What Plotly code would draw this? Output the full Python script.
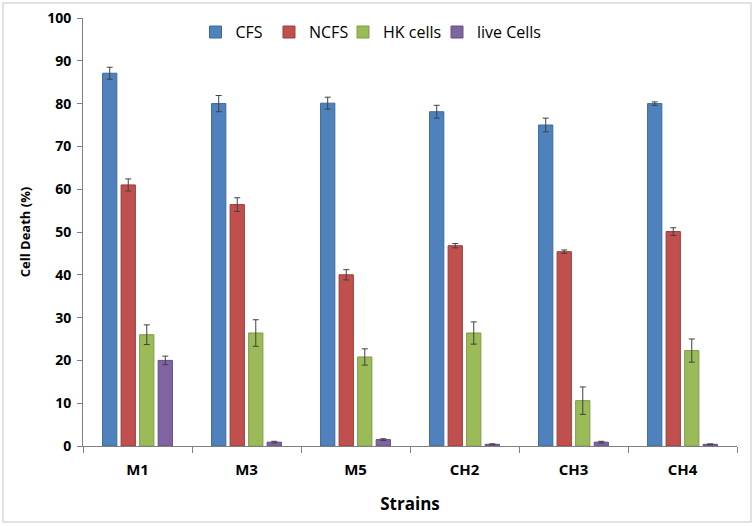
import plotly.graph_objects as go

strains = ["M1", "M3", "M5", "CH2", "CH3", "CH4"]
series_names = ["CFS", "NCFS", "HK cells", "live Cells"]
cfs = [87.1, 80.0, 80.1, 78.1, 75.0, 80.0]
cfs_err = [1.4, 1.9, 1.4, 1.5, 1.6, 0.4]
ncfs = [61.0, 56.4, 40.0, 46.8, 45.4, 50.1]
ncfs_err = [1.4, 1.6, 1.2, 0.5, 0.4, 0.9]
hk = [26.0, 26.4, 20.8, 26.4, 10.6, 22.3]
hk_err = [2.3, 3.1, 1.9, 2.6, 3.2, 2.7]
live = [20.0, 0.9, 1.5, 0.4, 0.9, 0.4]
live_err = [1.0, 0.2, 0.2, 0.1, 0.2, 0.1]

values = [cfs, ncfs, hk, live]
errors = [cfs_err, ncfs_err, hk_err, live_err]
colors = ["#4F81BD", "#C0504D", "#9BBB59", "#8064A2"]
edges = ["#3A6A9F", "#9E3B38", "#7F9C45", "#664E87"]
legend_ids = ["legend", "legend2", "legend3", "legend4"]
legend_x = [0.172, 0.2844, 0.3976, 0.5413]

fig = go.Figure()
for name, v, e, c, ec, lg in zip(series_names, values, errors, colors, edges, legend_ids):
    fig.add_trace(go.Bar(
        x=strains, y=v, name=name, legend=lg,
        marker=dict(color=c, line=dict(color=ec, width=1)),
        error_y=dict(type="data", array=e, visible=True, color="#404040", thickness=1, width=3),
    ))

legend_style = dict(orientation="h", y=0.967, xanchor="left", yanchor="middle",
                    font=dict(size=16, family="Open Sans, sans-serif"),
                    bgcolor="rgba(0,0,0,0)", itemwidth=30)
legends = {lg: dict(legend_style, x=lx) for lg, lx in zip(legend_ids, legend_x)}

fig.update_layout(
    width=754, height=526,
    margin=dict(l=83, r=17, t=18, b=80, autoexpand=False),
    paper_bgcolor="white", plot_bgcolor="rgba(0,0,0,0)",
    barmode="group", bargap=0.32, bargroupgap=0.23,
    font=dict(family="Open Sans, Liberation Sans, sans-serif", color="#000000"),
    showlegend=True,
    **legends,
    xaxis=dict(
        title=dict(text="<b>Strains</b>", font=dict(size=17), standoff=20),
        tickfont=dict(size=15), tickson="boundaries", ticks="outside", ticklen=6,
        tickcolor="#808080", showline=True, linecolor="#808080", linewidth=1,
        tickprefix="<b>", ticksuffix="</b>", automargin=False, ticklabelstandoff=10,
    ),
    yaxis=dict(
        title=dict(text="<b>Cell Death (%)</b>", font=dict(size=13), standoff=13),
        range=[0, 100], dtick=10, tickfont=dict(size=14),
        ticks="outside", ticklen=5, tickcolor="#808080",
        showline=True, linecolor="#808080", linewidth=1, showgrid=False, zeroline=False,
        tickprefix="<b>", ticksuffix="</b>", automargin=False, ticklabelstandoff=3,
    ),
)

fig.add_shape(type="rect", xref="paper", yref="paper",
              x0=-0.1223, x1=1.0214, y0=-0.1776, y1=1.035,
              line=dict(color="#D9D9D9", width=1.5), fillcolor="rgba(0,0,0,0)", layer="below")

fig.write_html("out.html", config={"displayModeBar": False},
               post_script="document.body.style.margin='0px';")
